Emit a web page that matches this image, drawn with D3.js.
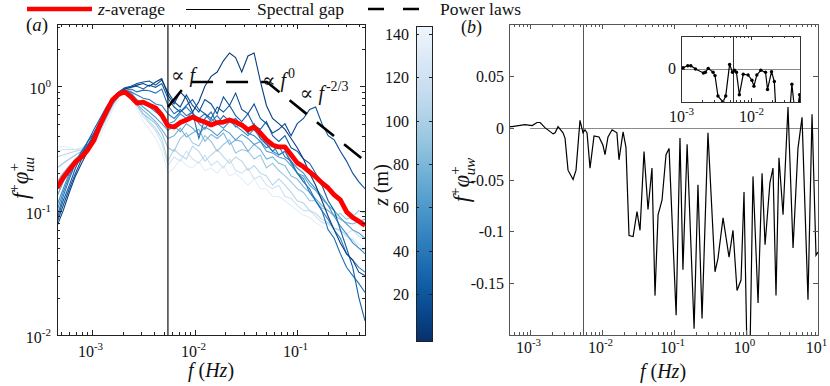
<!DOCTYPE html>
<html>
<head>
<meta charset="utf-8">
<script src="https://cdn.jsdelivr.net/npm/d3@7"></script>
<style>
  body { margin: 0; background: #fff; }
  svg text { font-family: "Liberation Serif", "Times New Roman", "DejaVu Serif", serif; fill: #111; }
</style>
</head>
<body>
<svg id="chart"></svg>
<script>
const width = 830, height = 386;

// ---- panel (a): premultiplied spectra, one curve per height z
const freqA = [4.57e-4, 5.25e-4, 6.03e-4, 6.92e-4, 7.94e-4, 9.12e-4, 1.05e-3, 1.20e-3, 1.38e-3, 1.58e-3,
  1.82e-3, 2.09e-3, 2.40e-3, 2.75e-3, 3.16e-3, 3.63e-3, 4.17e-3, 4.79e-3, 5.50e-3, 6.31e-3,
  7.24e-3, 8.32e-3, 9.55e-3, 0.0110, 0.0126, 0.0145, 0.0166, 0.0191, 0.0219, 0.0251,
  0.0288, 0.0331, 0.0380, 0.0437, 0.0501, 0.0575, 0.0661, 0.0759, 0.0871, 0.100,
  0.115, 0.132, 0.151, 0.174, 0.200, 0.229, 0.263, 0.302, 0.347, 0.398, 0.457];

const zLevels = [6, 16, 25, 35, 45, 55, 65, 78, 92, 106, 120, 135];

const spectra = [
  [0.075,0.10,0.14,0.19,0.24,0.30,0.38,0.50,0.64,0.78,0.88,0.95,0.98,1.02,1.05,1.0,1.08,1.15,0.85,0.72,0.9,0.8,0.62,0.75,1.0,1.2,1.3,1.6,1.85,1.7,1.3,1.75,1.85,1.1,0.7,0.55,0.5,0.45,0.38,0.32,0.26,0.2,0.16,0.12,0.09,0.07,0.055,0.045,0.04,0.032,0.03],
  [0.08,0.11,0.15,0.2,0.26,0.33,0.42,0.52,0.66,0.8,0.9,0.97,1.0,1.05,1.08,1.1,1.02,1.12,0.9,0.75,0.68,0.85,0.7,0.62,0.78,0.72,0.6,0.82,0.7,0.88,0.65,0.6,0.72,0.55,0.5,0.42,0.45,0.5,0.4,0.5,0.55,0.65,0.68,0.5,0.4,0.37,0.3,0.25,0.2,0.17,0.15],
  [0.085,0.12,0.16,0.22,0.28,0.36,0.45,0.55,0.68,0.8,0.88,0.95,0.98,1.0,0.95,1.02,0.98,1.05,0.8,0.68,0.62,0.7,0.78,0.65,0.6,0.55,0.68,0.62,0.7,0.58,0.52,0.6,0.48,0.45,0.52,0.4,0.36,0.4,0.32,0.3,0.26,0.24,0.2,0.16,0.12,0.1,0.07,0.05,0.035,0.02,0.013],
  [0.09,0.13,0.18,0.24,0.3,0.36,0.42,0.52,0.65,0.78,0.86,0.92,0.95,0.9,0.93,0.92,0.88,0.95,0.7,0.6,0.65,0.58,0.62,0.38,0.55,0.62,0.5,0.58,0.52,0.55,0.48,0.42,0.5,0.38,0.34,0.3,0.33,0.27,0.25,0.2,0.17,0.15,0.12,0.1,0.07,0.06,0.045,0.035,0.03,0.026,0.022],
  [0.1,0.14,0.19,0.24,0.29,0.34,0.4,0.5,0.62,0.75,0.85,0.92,0.9,0.85,0.8,0.78,0.72,0.7,0.6,0.55,0.62,0.68,0.6,0.55,0.6,0.52,0.58,0.5,0.55,0.47,0.5,0.42,0.4,0.36,0.32,0.34,0.28,0.3,0.24,0.2,0.18,0.14,0.12,0.1,0.085,0.07,0.06,0.045,0.04,0.035,0.032],
  [0.11,0.15,0.2,0.25,0.3,0.34,0.39,0.48,0.6,0.74,0.86,0.93,0.88,0.78,0.72,0.68,0.62,0.58,0.5,0.52,0.6,0.55,0.62,0.5,0.45,0.55,0.5,0.46,0.52,0.48,0.44,0.4,0.45,0.38,0.35,0.3,0.28,0.3,0.25,0.22,0.2,0.17,0.15,0.13,0.11,0.09,0.075,0.065,0.055,0.05,0.045],
  [0.13,0.17,0.21,0.25,0.29,0.33,0.38,0.46,0.58,0.72,0.84,0.92,0.86,0.75,0.68,0.62,0.56,0.5,0.44,0.48,0.43,0.5,0.46,0.41,0.47,0.44,0.4,0.45,0.42,0.37,0.41,0.38,0.34,0.36,0.3,0.29,0.27,0.26,0.23,0.2,0.19,0.16,0.145,0.125,0.11,0.1,0.088,0.078,0.07,0.066,0.06],
  [0.17,0.2,0.23,0.26,0.29,0.32,0.37,0.45,0.57,0.71,0.84,0.93,0.85,0.72,0.64,0.58,0.52,0.45,0.38,0.4,0.46,0.39,0.42,0.45,0.36,0.41,0.38,0.42,0.34,0.37,0.36,0.3,0.34,0.31,0.26,0.27,0.24,0.23,0.19,0.18,0.155,0.14,0.125,0.11,0.1,0.092,0.085,0.08,0.078,0.082,0.085],
  [0.22,0.24,0.26,0.28,0.3,0.33,0.37,0.45,0.56,0.7,0.83,0.94,0.88,0.7,0.6,0.55,0.5,0.42,0.32,0.3,0.38,0.42,0.35,0.33,0.4,0.36,0.3,0.34,0.37,0.29,0.31,0.3,0.26,0.28,0.22,0.24,0.21,0.19,0.17,0.15,0.14,0.12,0.12,0.105,0.1,0.09,0.095,0.085,0.09,0.1,0.095],
  [0.27,0.28,0.29,0.3,0.31,0.33,0.36,0.44,0.55,0.7,0.84,0.96,0.92,0.72,0.6,0.52,0.46,0.38,0.25,0.31,0.28,0.26,0.33,0.3,0.25,0.28,0.31,0.27,0.24,0.27,0.25,0.21,0.23,0.2,0.19,0.16,0.18,0.16,0.14,0.12,0.115,0.1,0.095,0.085,0.08,0.072,0.07,0.062,0.058,0.05,0.048],
  [0.3,0.31,0.31,0.31,0.32,0.34,0.36,0.43,0.54,0.68,0.82,0.95,0.9,0.7,0.57,0.5,0.44,0.35,0.23,0.27,0.25,0.3,0.26,0.24,0.28,0.23,0.25,0.22,0.26,0.21,0.2,0.22,0.18,0.19,0.16,0.15,0.16,0.13,0.125,0.11,0.1,0.1,0.09,0.08,0.078,0.072,0.068,0.065,0.07,0.062,0.06],
  [0.32,0.33,0.32,0.31,0.31,0.32,0.34,0.4,0.5,0.64,0.78,0.9,0.86,0.66,0.52,0.45,0.38,0.3,0.2,0.22,0.26,0.23,0.22,0.25,0.21,0.22,0.2,0.23,0.19,0.2,0.18,0.16,0.18,0.15,0.15,0.13,0.13,0.12,0.11,0.1,0.092,0.088,0.08,0.074,0.07,0.066,0.06,0.058,0.06,0.054,0.05]
];

const zAverage = [0.152,0.184,0.213,0.246,0.270,0.308,0.370,0.488,0.62,0.773,0.86,0.90,0.82,0.73,0.745,0.705,0.67,0.586,
  0.48,0.47,0.51,0.535,0.565,0.535,0.515,0.488,0.51,0.515,0.535,0.515,0.488,0.445,0.47,0.42,0.37,0.337,0.325,0.325,
  0.281,0.242,0.225,0.205,0.187,0.167,0.152,0.134,0.122,0.098,0.088,0.082,0.076];

const gapFreq = 5.5e-3;

// power laws: f^1, f^0, f^(-2/3)
const lawFreq = [5.5e-3, 8.7e-3, 0.0507, 0.457];
const lawVal = [0.68, 1.08, 1.08, 0.25];
const lawLabels = [
  { f: 5.9e-3, v: 1.08, exp: null },
  { f: 0.0453, v: 0.985, exp: '0' },
  { f: 0.106, v: 0.775, exp: '-2/3' }
];

// ---- panel (b): premultiplied cospectrum
const freqB = [5.1e-4, 5.62e-4, 8.5e-4, 1.07e-3, 1.25e-3, 1.38e-3, 1.61e-3, 2.09e-3, 2.23e-3, 2.45e-3,
  2.87e-3, 3.06e-3, 3.37e-3, 3.96e-3, 4.35e-3, 4.94e-3, 5.44e-3, 5.8e-3, 6.19e-3, 6.81e-3,
  7.74e-3, 9.08e-3, 1.03e-2, 1.10e-2, 1.21e-2, 1.38e-2, 1.61e-2, 1.72e-2, 1.96e-2, 2.15e-2,
  2.37e-2, 2.70e-2, 3.06e-2, 3.37e-2, 3.83e-2, 4.35e-2, 4.94e-2, 5.44e-2, 6.0e-2, 6.81e-2,
  7.74e-2, 8.53e-2, 0.107, 0.121, 0.133, 0.152, 0.19, 0.215, 0.245, 0.296,
  0.371, 0.408, 0.48, 0.581, 0.659, 0.75, 0.853, 0.938, 1.03, 1.14,
  1.25, 1.47, 1.67, 1.84, 2.15, 2.37, 2.61, 2.87, 3.27, 3.83,
  4.5, 5.27, 6.0, 7.26, 8.26, 9.38, 10];
const cospec = [0.001, 0.001, 0.003, 0.002, 0.005, 0.005, 0.0, -0.006, -0.005, 0.001,
  -0.005, -0.01, -0.041, -0.05, -0.041, 0.007, -0.005, -0.002, -0.005, -0.039,
  -0.008, -0.009, -0.017, -0.026, -0.009, -0.002, -0.005, -0.031, -0.004, -0.019,
  -0.104, -0.105, -0.081, -0.099, -0.023, -0.079, -0.039, -0.162, -0.084, -0.070,
  -0.026, -0.020, -0.181, -0.010, -0.137, -0.016, -0.194, -0.055, -0.184, -0.005,
  -0.139, -0.126, -0.087, -0.125, -0.099, -0.157, -0.147, -0.062, -0.215, -0.21,
  -0.047, -0.169, -0.044, -0.113, -0.053, -0.039, -0.162, -0.029, -0.084, 0.020,
  -0.116, -0.020, 0.010, -0.166, 0.013, -0.123, -0.12];
const yTicksB = [-0.15, -0.1, -0.05, 0, 0.05];

const svg = d3.select('#chart')
  .attr('width', width)
  .attr('height', height)
  .attr('font-family', '"Liberation Serif", "Times New Roman", serif');

svg.append('rect').attr('width', width).attr('height', height).attr('fill', 'white');

// log ticks: majors at decades, minors at 2..9
function logTicks(scale) {
  const [lo, hi] = scale.domain();
  const out = [];
  for (let k = Math.floor(Math.log10(lo)); k <= Math.ceil(Math.log10(hi)); k++) {
    for (let m = 1; m < 10; m++) {
      const v = m * Math.pow(10, k);
      if (v >= lo * 0.9999 && v <= hi * 1.0001) out.push({ v: v, k: k, major: m === 1 });
    }
  }
  return out;
}

function powLabel(text, k) {
  text.append('tspan').text('10');
  text.append('tspan').attr('dy', -7).attr('font-size', 11).text(k < 0 ? '-' + (-k) : k);
}

function box(g, x0, y0, x1, y1, color) {
  g.append('rect')
    .attr('x', x0 + 0.5).attr('y', y0 + 0.5)
    .attr('width', x1 - x0).attr('height', y1 - y0)
    .attr('fill', 'none').attr('stroke', color).attr('stroke-width', 1)
    .attr('shape-rendering', 'crispEdges');
}

function tick(g, x1, y1, x2, y2, color) {
  g.append('line')
    .attr('x1', x1).attr('y1', y1).attr('x2', x2).attr('y2', y2)
    .attr('stroke', color).attr('stroke-width', 1)
    .attr('shape-rendering', 'crispEdges');
}

function hzLabel(g, x, y) {
  const t = g.append('text').attr('x', x).attr('y', y)
    .attr('text-anchor', 'middle').attr('font-size', 20);
  t.append('tspan').attr('font-style', 'italic').text('f');
  t.append('tspan').text('  (');
  t.append('tspan').attr('font-style', 'italic').text('Hz');
  t.append('tspan').text(')');
}

function spectrumLabel(g, x, y, sub) {
  const t = g.append('text')
    .attr('transform', `translate(${x},${y}) rotate(-90)`)
    .attr('text-anchor', 'middle').attr('font-size', 23);
  t.append('tspan').attr('font-style', 'italic').text('f');
  t.append('tspan').attr('dy', -9).attr('font-size', 15).text('+');
  t.append('tspan').attr('dy', 9).attr('font-style', 'italic').text('\u03C6');
  t.append('tspan').attr('dy', -9).attr('font-size', 15).text('+');
  t.append('tspan').attr('dy', 15).attr('dx', -9).attr('font-size', 15).attr('font-style', 'italic').text(sub);
}

// =================== panel (a) ===================
const xA = d3.scaleLog().domain([4.57e-4, 0.457]).range([57, 365]);
const yA = d3.scaleLog().domain([0.01, Math.pow(10, 0.5)]).range([335, 24]);
const colorZ = d3.scaleSequential(t => d3.interpolateBlues(1 - 0.96 * t)).domain([-1.5, 143.5]);

svg.append('clipPath').attr('id', 'clipA')
  .append('rect').attr('x', 57).attr('y', 24).attr('width', 308).attr('height', 311);

const gA = svg.append('g');
const plotA = gA.append('g').attr('clip-path', 'url(#clipA)');

const lineA = d3.line().x((d, i) => xA(freqA[i])).y(d => yA(d));

// lightest (highest) first so dark curves end up on top
const order = d3.range(spectra.length).sort((a, b) => zLevels[b] - zLevels[a]);
plotA.selectAll('.spec')
  .data(order).join('path')
  .attr('class', 'spec')
  .attr('d', i => lineA(spectra[i]))
  .attr('fill', 'none')
  .attr('stroke', i => colorZ(zLevels[i]))
  .attr('stroke-width', 1.1);

plotA.append('line')
  .attr('x1', xA(gapFreq)).attr('x2', xA(gapFreq))
  .attr('y1', 24).attr('y2', 335)
  .attr('stroke', '#111').attr('stroke-width', 1.2);

const lawLine = d3.line().x((d, i) => xA(lawFreq[i])).y(d => yA(d));
plotA.append('path')
  .attr('d', lawLine(lawVal))
  .attr('fill', 'none').attr('stroke', '#000')
  .attr('stroke-width', 2.6).attr('stroke-dasharray', '22,13');

plotA.append('path')
  .attr('d', lineA(zAverage))
  .attr('fill', 'none').attr('stroke', '#ff0000')
  .attr('stroke-width', 4.8).attr('stroke-linejoin', 'round');

lawLabels.forEach(d => {
  const t = gA.append('text').attr('x', xA(d.f)).attr('y', yA(d.v)).attr('font-size', 20);
  t.append('tspan').text('\u221D ');
  t.append('tspan').attr('font-style', 'italic').text('f');
  if (d.exp) t.append('tspan').attr('dy', -9).attr('dx', 2).attr('font-size', 14).text(d.exp);
});

box(gA, 57, 24, 365, 335, '#222');
logTicks(xA).forEach(d => {
  const x = Math.round(xA(d.v)) + 0.5, len = d.major ? 5 : 3;
  tick(gA, x, 335, x, 335 - len, '#222');
  tick(gA, x, 24, x, 24 + len, '#222');
  if (d.major) {
    const t = gA.append('text').attr('x', x - 2).attr('y', 357)
      .attr('text-anchor', 'middle').attr('font-size', 16);
    powLabel(t, d.k);
  }
});
logTicks(yA).forEach(d => {
  const y = Math.round(yA(d.v)) + 0.5, len = d.major ? 5 : 3;
  tick(gA, 57, y, 57 + len, y, '#222');
  tick(gA, 365, y, 365 - len, y, '#222');
  if (d.major) {
    const t = gA.append('text').attr('x', 51).attr('y', y + 7)
      .attr('text-anchor', 'end').attr('font-size', 16);
    powLabel(t, d.k);
  }
});

hzLabel(gA, 211, 377);
spectrumLabel(gA, 28, 178, 'uu');

gA.append('text').attr('x', 26).attr('y', 31).attr('font-size', 19)
  .html('(<tspan font-style="italic">a</tspan>)');

// =================== colorbar ===================
const zScale = d3.scaleLinear().domain([-1.5, 143.5]).range([341, 26]);
const grad = svg.append('defs').append('linearGradient')
  .attr('id', 'zgrad').attr('x1', 0).attr('y1', 1).attr('x2', 0).attr('y2', 0);
d3.range(0, 1.0001, 0.05).forEach(t => {
  grad.append('stop').attr('offset', t)
    .attr('stop-color', colorZ(-1.5 + t * 145));
});
const gC = svg.append('g');
gC.append('rect').attr('x', 416).attr('y', 26).attr('width', 16).attr('height', 315)
  .attr('fill', 'url(#zgrad)');
box(gC, 416, 26, 432, 341, '#222');
[20, 40, 60, 80, 100, 120, 140].forEach(v => {
  const y = Math.round(zScale(v)) + 0.5;
  tick(gC, 416, y, 419, y, '#222');
  tick(gC, 432, y, 429, y, '#222');
  gC.append('text').attr('x', 409).attr('y', y + 5)
    .attr('text-anchor', 'end').attr('font-size', 16).text(v);
});
const zl = gC.append('text')
  .attr('transform', 'translate(388,185) rotate(-90)')
  .attr('text-anchor', 'middle').attr('font-size', 20);
zl.append('tspan').attr('font-style', 'italic').text('z');
zl.append('tspan').text(' (m)');

// =================== panel (b) ===================
const xB = d3.scaleLog().domain([5.1e-4, 10]).range([509, 818]);
const yB = d3.scaleLinear().domain([-0.2, 0.1]).range([335, 24]);

svg.append('clipPath').attr('id', 'clipB')
  .append('rect').attr('x', 509).attr('y', 24).attr('width', 309).attr('height', 311);

const gB = svg.append('g');
const plotB = gB.append('g').attr('clip-path', 'url(#clipB)');

plotB.append('line')
  .attr('x1', xB(1e-3)).attr('x2', xB(10))
  .attr('y1', Math.round(yB(0)) + 0.5).attr('y2', Math.round(yB(0)) + 0.5)
  .attr('stroke', '#8a8a8a').attr('stroke-width', 1);
plotB.append('line')
  .attr('x1', Math.round(xB(gapFreq)) + 0.5).attr('x2', Math.round(xB(gapFreq)) + 0.5)
  .attr('y1', 24).attr('y2', 335)
  .attr('stroke', '#555').attr('stroke-width', 1);

const lineB = d3.line().x((d, i) => xB(freqB[i])).y(d => yB(d));
plotB.append('path')
  .attr('d', lineB(cospec))
  .attr('fill', 'none').attr('stroke', '#000').attr('stroke-width', 1.2);

box(gB, 509, 24, 818, 335, '#555');
logTicks(xB).forEach(d => {
  const x = Math.round(xB(d.v)) + 0.5, len = d.major ? 5 : 3;
  tick(gB, x, 335, x, 335 - len, '#555');
  tick(gB, x, 24, x, 24 + len, '#555');
  if (d.major) {
    const t = gB.append('text').attr('x', x - 2).attr('y', 353)
      .attr('text-anchor', 'middle').attr('font-size', 16);
    powLabel(t, d.k);
  }
});
yTicksB.forEach(v => {
  const y = Math.round(yB(v)) + 0.5;
  tick(gB, 509, y, 514, y, '#555');
  tick(gB, 818, y, 813, y, '#555');
  gB.append('text').attr('x', 504).attr('y', y + 5)
    .attr('text-anchor', 'end').attr('font-size', 16).text(v === 0 ? '0' : String(v));
});

hzLabel(gB, 663, 378);
spectrumLabel(gB, 469, 180, 'uw');

gB.append('text').attr('x', 461).attr('y', 33).attr('font-size', 18)
  .html('(<tspan font-style="italic">b</tspan>)');

// ---- inset: low-frequency zoom with markers
const xI = d3.scaleLog().domain([1e-3, 0.05]).range([681, 800]);
const yI = d3.scaleLinear().domain([-0.05, 0.05]).range([102, 36]);
const gI = svg.append('g');
gI.append('rect').attr('x', 681).attr('y', 36).attr('width', 119).attr('height', 66).attr('fill', 'white');
svg.append('clipPath').attr('id', 'clipI')
  .append('rect').attr('x', 681).attr('y', 36).attr('width', 119).attr('height', 66);
const plotI = gI.append('g').attr('clip-path', 'url(#clipI)');
plotI.append('line')
  .attr('x1', 681).attr('x2', 800)
  .attr('y1', Math.round(yI(0)) + 0.5).attr('y2', Math.round(yI(0)) + 0.5)
  .attr('stroke', '#8a8a8a');
plotI.append('line')
  .attr('x1', Math.round(xI(gapFreq)) + 0.5).attr('x2', Math.round(xI(gapFreq)) + 0.5)
  .attr('y1', 36).attr('y2', 102)
  .attr('stroke', '#333');
const lineI = d3.line().x((d, i) => xI(freqB[i])).y(d => yI(d));
plotI.append('path').attr('d', lineI(cospec))
  .attr('fill', 'none').attr('stroke', '#000').attr('stroke-width', 1.2);
plotI.selectAll('circle')
  .data(cospec.map((v, i) => ({ f: freqB[i], v: v })).filter(d => d.f >= 1e-3 && d.f <= 0.05))
  .join('circle')
  .attr('cx', d => xI(d.f)).attr('cy', d => yI(d.v)).attr('r', 1.7).attr('fill', '#000');
box(gI, 681, 36, 800, 102, '#333');
logTicks(xI).forEach(d => {
  const x = Math.round(xI(d.v)) + 0.5, len = d.major ? 4 : 2;
  tick(gI, x, 102, x, 102 - len, '#333');
  tick(gI, x, 36, x, 36 + len, '#333');
  if (d.major) {
    const t = gI.append('text').attr('x', x).attr('y', 122)
      .attr('text-anchor', 'middle').attr('font-size', 16);
    powLabel(t, d.k);
  }
});
tick(gI, 681, Math.round(yI(0)) + 0.5, 685, Math.round(yI(0)) + 0.5, '#333');
gI.append('text').attr('x', 676).attr('y', yI(0) + 5)
  .attr('text-anchor', 'end').attr('font-size', 16).text('0');

// =================== legend ===================
const gL = svg.append('g');
gL.append('line').attr('x1', 27).attr('x2', 92).attr('y1', 9).attr('y2', 9)
  .attr('stroke', '#ff0000').attr('stroke-width', 4.5);
const l1 = gL.append('text').attr('x', 98).attr('y', 15).attr('font-size', 17.5);
l1.append('tspan').attr('font-style', 'italic').text('z');
l1.append('tspan').text('-average');
gL.append('line').attr('x1', 186).attr('x2', 250).attr('y1', 9.5).attr('y2', 9.5)
  .attr('stroke', '#000').attr('stroke-width', 1);
gL.append('text').attr('x', 257).attr('y', 15).attr('font-size', 17.5).text('Spectral gap');
gL.append('line').attr('x1', 368).attr('x2', 432).attr('y1', 9).attr('y2', 9)
  .attr('stroke', '#000').attr('stroke-width', 2.6).attr('stroke-dasharray', '16,19');
gL.append('text').attr('x', 440).attr('y', 15).attr('font-size', 17.5).text('Power laws');
</script>
</body>
</html>
